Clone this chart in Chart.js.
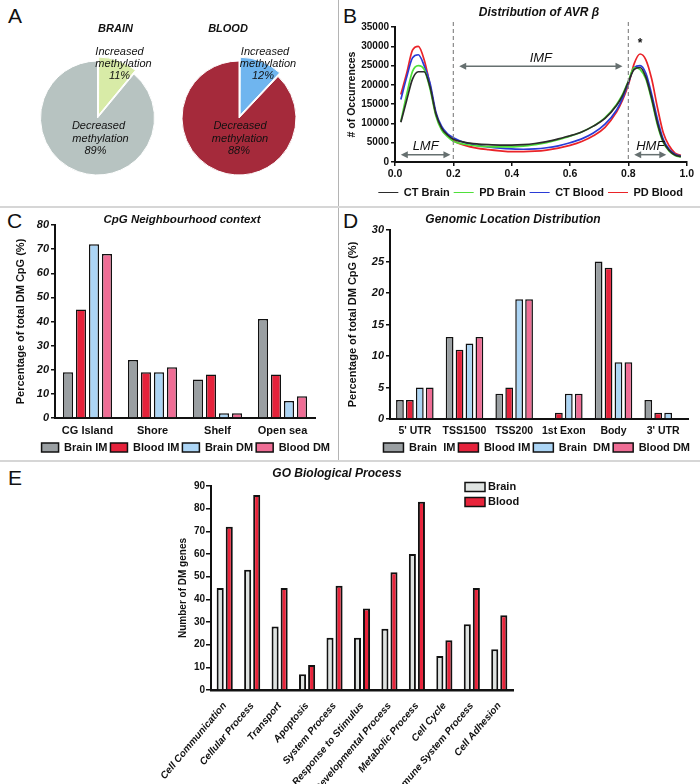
<!DOCTYPE html>
<html>
<head>
<meta charset="utf-8">
<script src="https://cdn.jsdelivr.net/npm/chart.js@4.4.1/dist/chart.umd.min.js"></script>
<style>
  body { margin: 0; background: #fff; width: 700px; height: 784px; position: relative; overflow: hidden;
         font-family: "Liberation Sans", Arial, sans-serif; }
  .box { position: absolute; }
  .letter { position: absolute; font-size: 21px; line-height: 1; color: #111; }
  .hline { position: absolute; left: 0; width: 700px; height: 2px; background: #d6d6d6; z-index: 2; }
  .vline { position: absolute; left: 338px; top: 0; width: 1px; height: 461px; background: #b4b4b4; z-index: 2; }
</style>
</head>
<body>
<div class="letter" style="left:8px;top:5px">A</div>
<div class="letter" style="left:343px;top:5px">B</div>
<div class="letter" style="left:7px;top:210px">C</div>
<div class="letter" style="left:343px;top:210px">D</div>
<div class="letter" style="left:8px;top:467px">E</div>
<div class="vline"></div>
<div class="hline" style="top:206px"></div>
<div class="hline" style="top:460px"></div>

<div class="box" style="left:0;top:0;width:195px;height:236px"><canvas id="pieBrain"></canvas></div>
<div class="box" style="left:170px;top:0;width:138px;height:236px"><canvas id="pieBlood"></canvas></div>
<div class="box" style="left:340px;top:0;width:356px;height:208px"><canvas id="betaChart"></canvas></div>
<div class="box" style="left:0;top:207px;width:338px;height:256px"><canvas id="cpgChart"></canvas></div>
<div class="box" style="left:340px;top:207px;width:356px;height:256px"><canvas id="locChart"></canvas></div>
<div class="box" style="left:150px;top:462px;width:400px;height:322px"><canvas id="goChart"></canvas></div>

<script>
// --- A: pies
const pieLabels = ["Increased methylation", "Decreased methylation"];
const brainPie = [11, 89];
const bloodPie = [12, 88];

// --- B: distribution of AVR beta
const betaX = [0.02, 0.04, 0.06, 0.08, 0.10, 0.12, 0.14, 0.16, 0.18, 0.20, 0.24, 0.28, 0.32, 0.36, 0.40, 0.44, 0.48,
  0.52, 0.56, 0.60, 0.64, 0.68, 0.72, 0.76, 0.78, 0.80, 0.82, 0.84, 0.86, 0.88, 0.90, 0.92, 0.94, 0.96, 0.98];
const ctBrain = [10300, 16000, 21500, 23400, 23400, 19500, 12500, 8800, 7000, 5900, 5100, 4700, 4500, 4400, 4400, 4500, 4800,
  5300, 6000, 6800, 7800, 9300, 11300, 14700, 17200, 20800, 24000, 24500, 22000, 16500, 10000, 5300, 3000, 1800, 1400];
const pdBrain = [10500, 17500, 23500, 25000, 24000, 19000, 12000, 8300, 6600, 5400, 4600, 4200, 4000, 3900, 3900, 4100, 4500,
  5000, 5800, 6700, 7800, 9300, 11500, 15000, 17500, 21000, 24500, 24000, 21500, 16000, 9500, 5000, 2800, 1700, 1300];
const ctBlood = [16200, 22000, 27000, 27800, 25000, 20500, 13000, 9200, 7300, 6300, 5000, 4300, 3900, 3600, 3400, 3300, 3400,
  3700, 4200, 5000, 6000, 7500, 9800, 13500, 16500, 20500, 24500, 25000, 23000, 17500, 11000, 5800, 3300, 2000, 1500];
const pdBlood = [17500, 23000, 29000, 30000, 26500, 20000, 12500, 8500, 6800, 5500, 4300, 3600, 3200, 2900, 2700, 2700, 2800,
  3100, 3600, 4300, 5300, 6800, 9000, 13000, 16000, 20000, 25500, 28000, 26500, 21500, 14000, 7500, 4200, 2300, 1700];
const bandCuts = [0.2, 0.8];
const bandArrows = [
  { label: "LMF", from: 0.02, to: 0.19, y: 1900, labelY: 4100 },
  { label: "IMF", from: 0.22, to: 0.78, y: 24800, labelY: 26900 },
  { label: "HMF", from: 0.82, to: 0.93, y: 1900, labelY: 4100 }
];
const starAt = { x: 0.84, y: 30600 };

// --- C: CpG neighbourhood
const cpgCategories = ["CG Island", "Shore", "Shelf", "Open sea"];
const cpgBrainIM = [19, 24, 16, 41];
const cpgBloodIM = [45, 19, 18, 18];
const cpgBrainDM = [72, 19, 2, 7];
const cpgBloodDM = [68, 21, 2, 9];

// --- D: genomic location
const locCategories = ["5' UTR", "TSS1500", "TSS200", "1st Exon", "Body", "3' UTR"];
const locBrainIM = [3, 13, 4, 0, 25, 3];
const locBloodIM = [3, 11, 5, 1, 24, 1];
const locBrainDM = [5, 12, 19, 4, 9, 1];
const locBloodDM = [5, 13, 19, 4, 9, 0];

// --- E: GO biological process
const goCategories = ["Cell Communication", "Cellular Process", "Transport", "Apoptosis", "System Process",
  "Response to Stimulus", "Developmental Process", "Metabolic Process", "Cell Cycle", "Immune System Process", "Cell Adhesion"];
const goBrain = [45, 53, 28, 7, 23, 23, 27, 60, 15, 29, 18];
const goBlood = [72, 86, 45, 11, 46, 36, 52, 83, 22, 45, 33];

const FONT = '"Liberation Sans", Arial, sans-serif';
const NARROW = '"Liberation Sans Narrow", "Liberation Sans", Arial, sans-serif';
Chart.defaults.font.family = FONT;
Chart.defaults.color = "#111";
Chart.defaults.animation = false;
Chart.defaults.plugins.tooltip.enabled = false;

const GRAY_IM = "#9a9fa2", RED_IM = "#e5223b", BLUE_DM = "#acd5f5", PINK_DM = "#ef6d95";

function textPlugin(items) {
  return {
    id: "panelText",
    afterDraw(chart) {
      const ctx = chart.ctx;
      ctx.save();
      ctx.textAlign = "center";
      ctx.textBaseline = "middle";
      ctx.fillStyle = "#111";
      items.forEach(t => {
        ctx.font = t.font;
        ctx.fillText(t.text, t.x, t.y);
      });
      ctx.restore();
    }
  };
}

function pieText(title, titleDx, values, incPos, decPos) {
  return {
    id: "pieText",
    afterDraw(chart) {
      const arc = chart.getDatasetMeta(0).data[1];
      const cx = arc.x, cy = arc.y;
      const ctx = chart.ctx;
      ctx.save();
      ctx.textAlign = "center";
      ctx.textBaseline = "middle";
      ctx.fillStyle = "#111";
      ctx.font = "italic bold 11px " + FONT;
      ctx.fillText(title, cx + titleDx, cy - 89);
      ctx.font = "italic 11px " + FONT;
      const inc = ["Increased", "methylation", values[0] + "%"];
      const dec = ["Decreased", "methylation", values[1] + "%"];
      inc.forEach((s, i) => ctx.fillText(s, cx + incPos[i], cy - 66 + i * 12));
      dec.forEach((s, i) => ctx.fillText(s, cx + decPos[i], cy + 8 + i * 12.5));
      ctx.restore();
    }
  };
}

function pieConfig(values, colors, plugin) {
  return {
    type: "pie",
    data: {
      labels: pieLabels,
      datasets: [{ data: values, backgroundColor: colors, borderColor: "#fff", borderWidth: 1, offset: [12, 0] }]
    },
    options: {
      responsive: true, maintainAspectRatio: false, radius: 57,
      plugins: { legend: { display: false } }
    },
    plugins: [plugin]
  };
}

new Chart(document.getElementById("pieBrain"),
  pieConfig(brainPie, ["#d8eba7", "#b7c3c1"], pieText("BRAIN", 18, brainPie, [22, 26, 22], [1, 3, -2])));
new Chart(document.getElementById("pieBlood"),
  pieConfig(bloodPie, ["#6fb5ef", "#a52a3b"], pieText("BLOOD", -11, bloodPie, [26, 29, 24], [1, 1, 0])));

// --- B
const betaMarks = {
  id: "betaMarks",
  afterDatasetsDraw(chart) {
    const { ctx, chartArea, scales: { x, y } } = chart;
    ctx.save();
    ctx.strokeStyle = "#8a8a8a";
    ctx.lineWidth = 1.2;
    ctx.setLineDash([4, 3]);
    bandCuts.forEach(v => {
      const px = x.getPixelForValue(v);
      ctx.beginPath();
      ctx.moveTo(px, chartArea.top - 5);
      ctx.lineTo(px, chartArea.bottom);
      ctx.stroke();
    });
    ctx.setLineDash([]);
    bandArrows.forEach(a => {
      const x1 = x.getPixelForValue(a.from), x2 = x.getPixelForValue(a.to), py = y.getPixelForValue(a.y);
      ctx.strokeStyle = "#667070";
      ctx.fillStyle = "#667070";
      ctx.lineWidth = 1.5;
      ctx.beginPath();
      ctx.moveTo(x1 + 4, py);
      ctx.lineTo(x2 - 4, py);
      ctx.stroke();
      [[x1, 1], [x2, -1]].forEach(([px, d]) => {
        ctx.beginPath();
        ctx.moveTo(px, py);
        ctx.lineTo(px + 7 * d, py - 3.5);
        ctx.lineTo(px + 7 * d, py + 3.5);
        ctx.closePath();
        ctx.fill();
      });
      ctx.fillStyle = "#111";
      ctx.font = "italic 13px " + FONT;
      ctx.textAlign = "center";
      ctx.textBaseline = "middle";
      ctx.fillText(a.label, (x1 + x2) / 2, y.getPixelForValue(a.labelY));
    });
    ctx.font = "bold 12px " + FONT;
    ctx.fillText("*", x.getPixelForValue(starAt.x), y.getPixelForValue(starAt.y));
    ctx.restore();
  }
};

const tickGrid = { display: true, drawOnChartArea: false, drawTicks: true, tickLength: 4, color: "#111", lineWidth: 1.5 };
const axisBorder = { color: "#111", width: 2 };
const pts = arr => betaX.map((x, i) => ({ x: x, y: arr[i] }));

new Chart(document.getElementById("betaChart"), {
  type: "line",
  data: {
    datasets: [
      { label: "CT Brain", data: pts(ctBrain), borderColor: "#2b2b2b", backgroundColor: "#2b2b2b" },
      { label: "PD Brain", data: pts(pdBrain), borderColor: "#4fe03a", backgroundColor: "#4fe03a" },
      { label: "CT Blood", data: pts(ctBlood), borderColor: "#2a3bd6", backgroundColor: "#2a3bd6" },
      { label: "PD Blood", data: pts(pdBlood), borderColor: "#ea2328", backgroundColor: "#ea2328" }
    ]
  },
  options: {
    responsive: true, maintainAspectRatio: false,
    layout: { padding: { top: 27, right: 9 } },
    elements: { point: { radius: 0 }, line: { borderWidth: 1.7, cubicInterpolationMode: "monotone" } },
    scales: {
      x: {
        type: "linear", min: 0, max: 1,
        ticks: { stepSize: 0.2, callback: v => v.toFixed(1), font: { size: 10.5, weight: "bold" }, padding: 2 },
        grid: tickGrid, border: axisBorder,
        afterFit: s => { s.height = 21; }
      },
      y: {
        min: 0, max: 35000,
        ticks: { stepSize: 5000, callback: v => String(v), font: { size: 10, weight: "bold" }, padding: 2 },
        grid: tickGrid, border: axisBorder,
        title: { display: true, text: "# of Occurrences", font: { size: 10.5, weight: "bold" }, padding: { top: 6, bottom: 0 } },
        afterFit: s => { s.width = 55; }
      }
    },
    plugins: {
      legend: {
        position: "bottom", align: "end",
        labels: { usePointStyle: true, pointStyle: "line", pointStyleWidth: 20, padding: 4, font: { size: 11, weight: "bold" } }
      }
    }
  },
  plugins: [betaMarks, textPlugin([{ text: "Distribution of AVR β", x: 199, y: 13, font: "italic bold 12px " + FONT }])]
});

// --- C and D
function barOptions(o) {
  return {
    responsive: true, maintainAspectRatio: false,
    layout: { padding: { top: o.top, right: o.right } },
    scales: {
      x: {
        grid: { display: false, drawTicks: false, tickLength: 0 }, border: axisBorder,
        ticks: { maxRotation: 0, minRotation: 0, autoSkip: false, font: { size: o.xFont, weight: "bold" }, padding: 6 },
        afterFit: s => { s.height = o.xHeight; }
      },
      y: {
        min: 0, max: o.max,
        ticks: { stepSize: o.step, font: { size: 11, weight: "bold", style: "italic" }, padding: 2 },
        grid: tickGrid, border: axisBorder,
        title: { display: true, text: "Percentage of total DM CpG (%)", font: { size: 11, weight: "bold" }, padding: { top: o.titlePad, bottom: 0 } },
        afterFit: s => { s.width = o.yWidth; }
      },
      y2: {
        position: "right",
        grid: { display: false }, border: { display: false }, ticks: { display: false },
        afterFit: s => { s.width = o.y2Width; }
      }
    },
    plugins: {
      legend: {
        position: "bottom", align: "end",
        labels: { boxWidth: o.boxWidth, boxHeight: 9, padding: o.legendPad, font: { size: 11, weight: "bold" } }
      }
    }
  };
}

function barSet(label, data, color) {
  return { label: label, data: data, backgroundColor: color, borderColor: "#111", borderWidth: 1.5,
    yAxisID: "y", categoryPercentage: 0.8, barPercentage: 0.78 };
}

new Chart(document.getElementById("cpgChart"), {
  type: "bar",
  data: {
    labels: cpgCategories,
    datasets: [
      barSet("Brain IM", cpgBrainIM, GRAY_IM),
      barSet("Blood IM", cpgBloodIM, RED_IM),
      barSet("Brain DM", cpgBrainDM, BLUE_DM),
      barSet("Blood DM", cpgBloodDM, PINK_DM)
    ]
  },
  options: barOptions({ top: 18, right: 5, max: 80, step: 10, xHeight: 21, xFont: 11, yWidth: 55, y2Width: 18, titlePad: 14, boxWidth: 17, legendPad: 3 }),
  plugins: [textPlugin([{ text: "CpG Neighbourhood context", x: 182, y: 13, font: "italic bold 11.5px " + FONT }])]
});

new Chart(document.getElementById("locChart"), {
  type: "bar",
  data: {
    labels: locCategories,
    datasets: [
      barSet("Brain  IM", locBrainIM, GRAY_IM),
      barSet("Blood IM", locBloodIM, RED_IM),
      barSet("Brain  DM", locBrainDM, BLUE_DM),
      barSet("Blood DM", locBloodDM, PINK_DM)
    ]
  },
  options: barOptions({ top: 23, right: 3, max: 30, step: 5, xHeight: 20, xFont: 10.5, yWidth: 50, y2Width: 5, titlePad: 6, boxWidth: 20, legendPad: 3 }),
  plugins: [textPlugin([{ text: "Genomic Location Distribution", x: 173, y: 13, font: "italic bold 12px " + FONT }])]
});

// --- E
const goLegend = {
  id: "goLegend",
  afterDraw(chart) {
    const { ctx, chartArea } = chart;
    ctx.save();
    chart.data.datasets.forEach((ds, i) => {
      const x = chartArea.right - 48, y = chartArea.top + 1 + i * 15;
      ctx.fillStyle = ds.backgroundColor;
      ctx.fillRect(x, y - 4.5, 20, 9);
      ctx.lineWidth = 1.5;
      ctx.strokeStyle = "#111";
      ctx.strokeRect(x, y - 4.5, 20, 9);
      ctx.fillStyle = "#111";
      ctx.font = "bold 11px " + NARROW;
      ctx.textAlign = "left";
      ctx.textBaseline = "middle";
      ctx.fillText(ds.label, x + 23, y);
    });
    ctx.restore();
  }
};

new Chart(document.getElementById("goChart"), {
  type: "bar",
  data: {
    labels: goCategories,
    datasets: [
      { label: "Brain", data: goBrain, backgroundColor: "#dfe3e1", borderColor: "#111", borderWidth: 2, categoryPercentage: 0.66, barPercentage: 0.78 },
      { label: "Blood", data: goBlood, backgroundColor: "#e8243b", borderColor: "#111", borderWidth: 2, categoryPercentage: 0.66, barPercentage: 0.78 }
    ]
  },
  options: {
    responsive: true, maintainAspectRatio: false,
    layout: { padding: { top: 24, right: 37 } },
    scales: {
      x: {
        grid: { display: false }, border: { color: "#111", width: 2.5 },
        ticks: { minRotation: 50, maxRotation: 50, autoSkip: false, font: { size: 10, weight: "bold", style: "italic" }, padding: 2 },
        afterFit: s => { s.height = 94; }
      },
      y: {
        min: 0, max: 90,
        ticks: { stepSize: 10, font: { family: NARROW, size: 10, weight: "bold" }, padding: 1 },
        grid: { display: true, drawOnChartArea: false, tickLength: 5, color: "#111", lineWidth: 1.5 },
        border: axisBorder,
        title: { display: true, text: "Number of DM genes", font: { size: 10, weight: "bold" }, padding: { top: 27, bottom: 0 } },
        afterFit: s => { s.width = 61; }
      }
    },
    plugins: { legend: { display: false } }
  },
  plugins: [goLegend, textPlugin([{ text: "GO Biological Process", x: 187, y: 12, font: "italic bold 12px " + FONT }])]
});
</script>
</body>
</html>
